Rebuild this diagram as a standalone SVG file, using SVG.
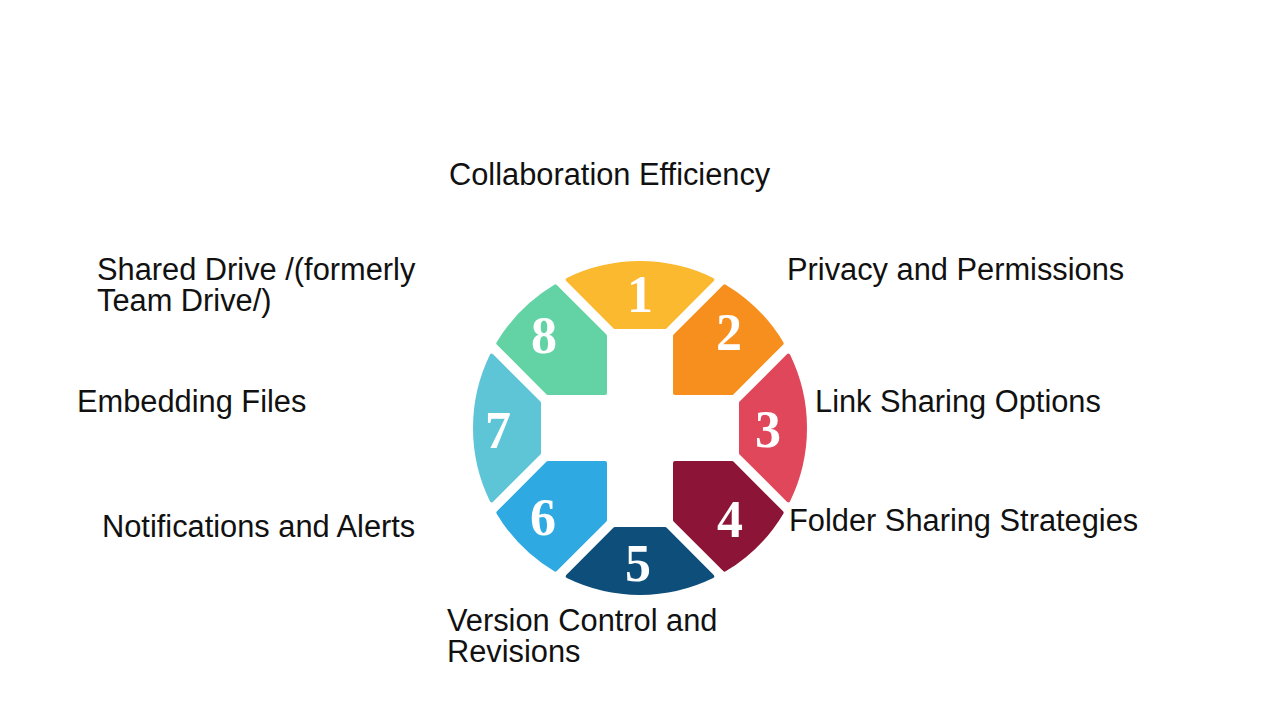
<svg xmlns="http://www.w3.org/2000/svg" width="1280" height="719" viewBox="0 0 1280 719">
  <style>
    .seg { stroke-width: 4; stroke-linejoin: round; }
    .num { font-family: "Liberation Serif", "Times New Roman", serif; font-weight: bold; font-size: 52px; fill: #ffffff; text-anchor: middle; }
    .lbl { font-family: "Liberation Sans", Arial, sans-serif; font-size: 30.8px; fill: #111111; }
  </style>
  <rect x="0" y="0" width="1280" height="719" fill="#ffffff"/>

  <g id="wheel">
    <g id="seg1">
      <path class="seg" fill="#FBB92F" stroke="#FBB92F" d="M615,327 L567.69,279.69 A165,165 0 0 1 712.31,279.69 L665,327 Z"/>
      <text class="num" x="640" y="312">1</text>
    </g>
    <g id="seg2">
      <path class="seg" fill="#F78F1E" stroke="#F78F1E" d="M675,336 L724.64,286.36 A165,165 0 0 1 781.64,343.36 L732,393 L675,393 Z"/>
      <text class="num" x="729" y="350">2</text>
    </g>
    <g id="seg3">
      <path class="seg" fill="#E0475A" stroke="#E0475A" d="M741,403 L788.31,355.69 A165,165 0 0 1 788.31,500.31 L741,453 Z"/>
      <text class="num" x="768" y="447">3</text>
    </g>
    <g id="seg4">
      <path class="seg" fill="#8C1437" stroke="#8C1437" d="M732,463 L781.64,512.64 A165,165 0 0 1 724.64,569.64 L675,520 L675,463 Z"/>
      <text class="num" x="730" y="537">4</text>
    </g>
    <g id="seg5">
      <path class="seg" fill="#0D4E7A" stroke="#0D4E7A" d="M665,529 L712.31,576.31 A165,165 0 0 1 567.69,576.31 L615,529 Z"/>
      <text class="num" x="638" y="581">5</text>
    </g>
    <g id="seg6">
      <path class="seg" fill="#2FA9E1" stroke="#2FA9E1" d="M605,520 L555.36,569.64 A165,165 0 0 1 498.36,512.64 L548,463 L605,463 Z"/>
      <text class="num" x="543" y="535">6</text>
    </g>
    <g id="seg7">
      <path class="seg" fill="#5DC5D6" stroke="#5DC5D6" d="M539,453 L491.69,500.31 A165,165 0 0 1 491.69,355.69 L539,403 Z"/>
      <text class="num" x="498" y="448">7</text>
    </g>
    <g id="seg8">
      <path class="seg" fill="#63D3A5" stroke="#63D3A5" d="M548,393 L498.36,343.36 A165,165 0 0 1 555.36,286.36 L605,336 L605,393 Z"/>
      <text class="num" x="544" y="353">8</text>
    </g>
  </g>

  <g id="connectors"></g>

  <g id="labels">
    <g id="label1"><text class="lbl" x="449" y="185">Collaboration Efficiency</text></g>
    <g id="label2"><text class="lbl" x="787" y="280">Privacy and Permissions</text></g>
    <g id="label3"><text class="lbl" x="815" y="412">Link Sharing Options</text></g>
    <g id="label4"><text class="lbl" x="789" y="531">Folder Sharing Strategies</text></g>
    <g id="label5"><text class="lbl" x="447" y="631">Version Control and<tspan x="447" dy="31">Revisions</tspan></text></g>
    <g id="label6"><text class="lbl" x="102" y="537">Notifications and Alerts</text></g>
    <g id="label7"><text class="lbl" x="77" y="412">Embedding Files</text></g>
    <g id="label8"><text class="lbl" x="97" y="280">Shared Drive /(formerly<tspan x="97" dy="31">Team Drive/)</tspan></text></g>
  </g>
</svg>
